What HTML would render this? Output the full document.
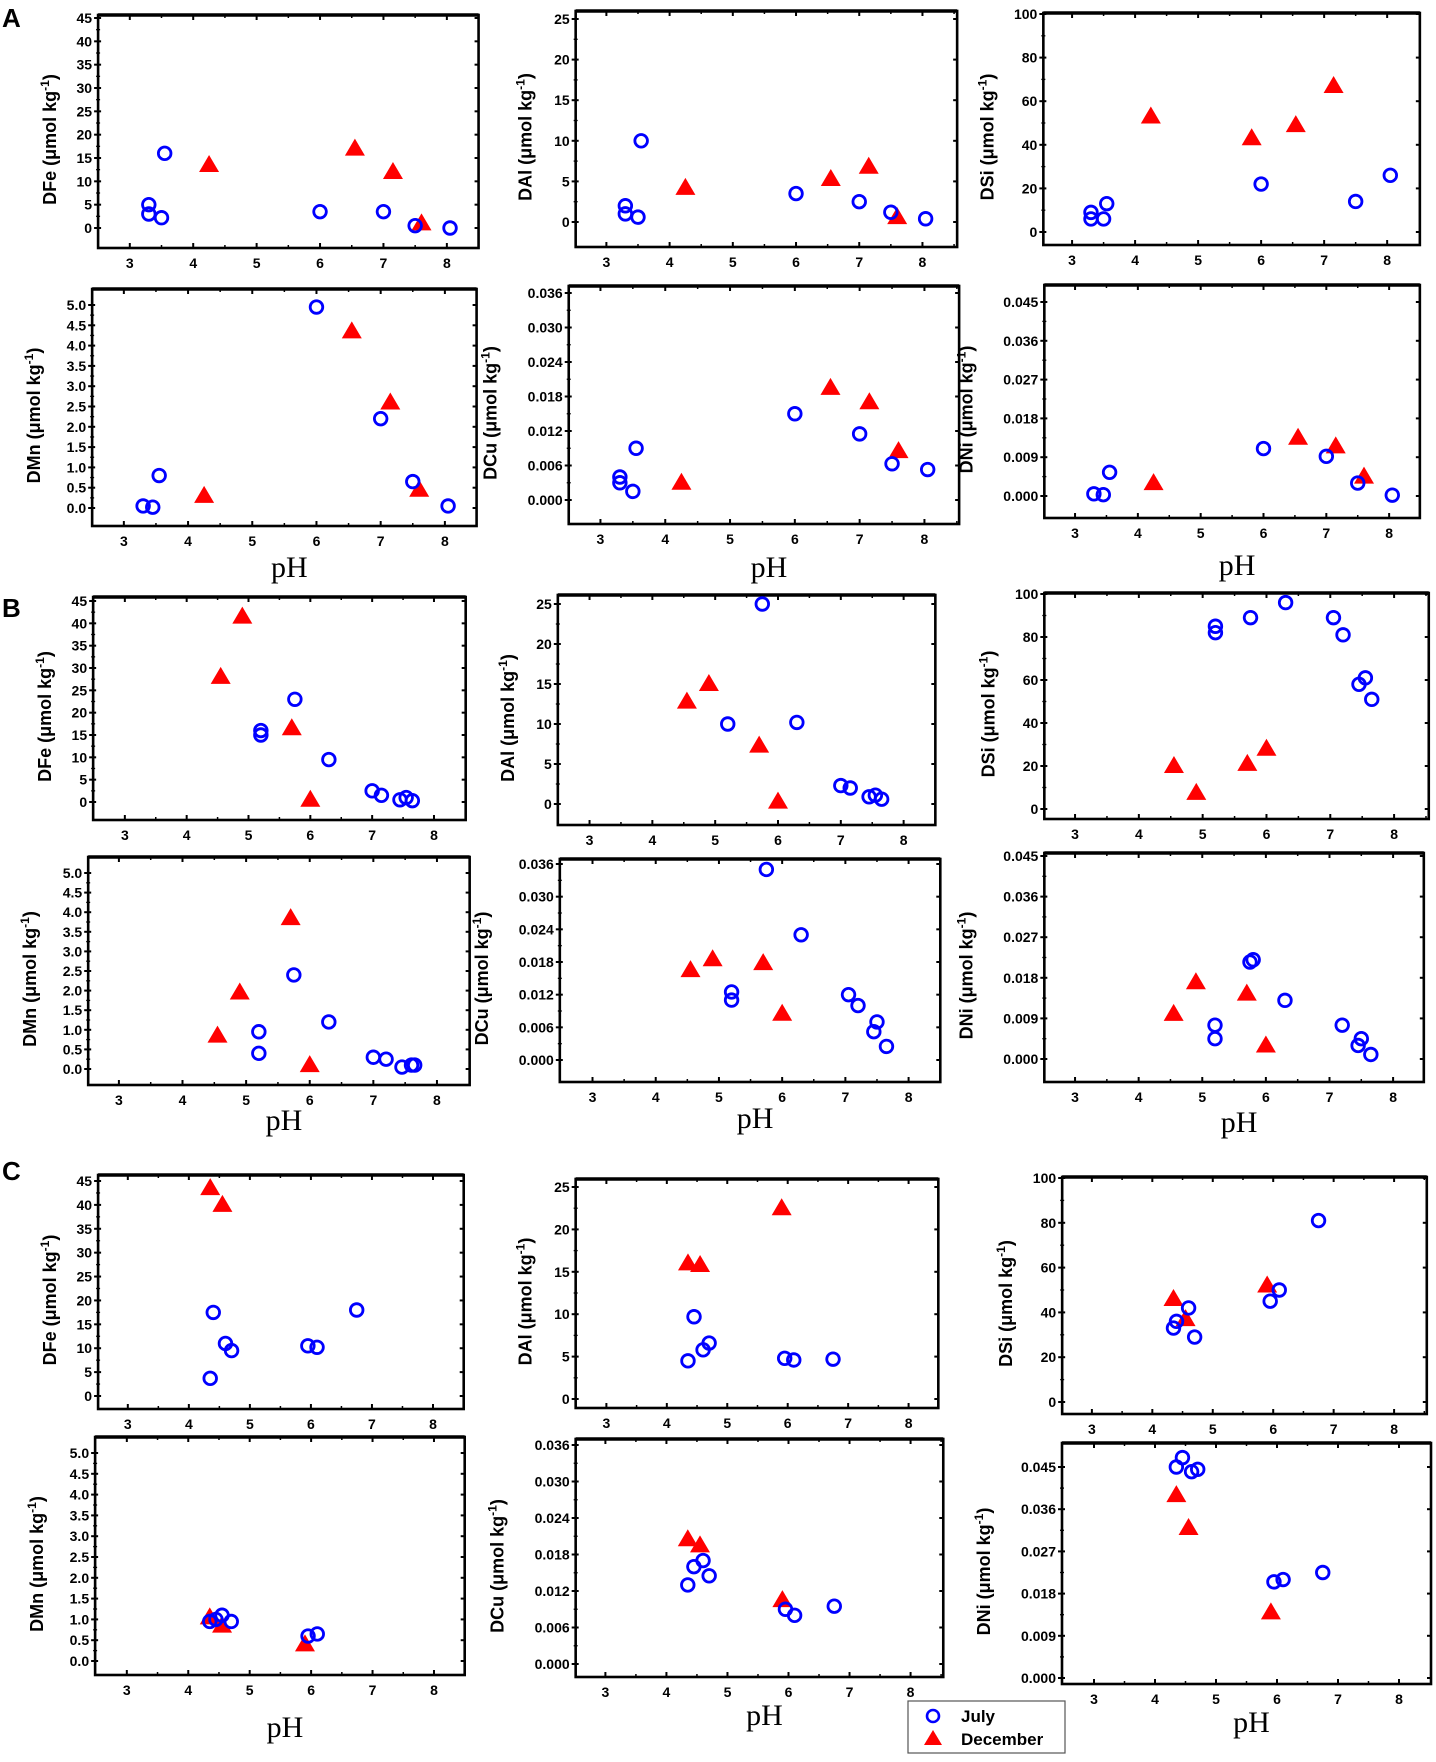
<!DOCTYPE html>
<html><head><meta charset="utf-8">
<style>
html,body{margin:0;padding:0;background:#fff;}
svg{display:block;}
text{font-family:"Liberation Sans",Arial,sans-serif;}
text.serif{font-family:"Liberation Serif","Times New Roman",serif;}
</style></head>
<body>
<svg id="fig" width="1436" height="1762" viewBox="0 0 1436 1762" xmlns="http://www.w3.org/2000/svg">
<text x="2" y="27" font-size="26" font-weight="bold">A</text>
<text x="2" y="617" font-size="26" font-weight="bold">B</text>
<text x="2" y="1180" font-size="26" font-weight="bold">C</text>
<g id="plots"></g>
<g>
<rect x="908" y="1701" width="157" height="52" fill="#fff" stroke="#555" stroke-width="1.2"/>
<circle cx="933" cy="1716" r="6" fill="none" stroke="#0000ff" stroke-width="2.6"/>
<text x="961" y="1722" font-size="17" font-weight="bold">July</text>
<polygon points="933,1730 942,1745 924,1745" fill="#ff0000"/>
<text x="961" y="1745" font-size="17" font-weight="bold">December</text>
</g>
</svg>
<script>
// ---- data (pH, concentration) ----
const A_DFe_julyPH=[3.3,3.3,3.5,3.55,6,7,7.5,8.05];
const A_DFe_july=[5,3,2.2,16,3.5,3.5,0.5,0];
const A_DFe_decPH=[4.25,6.55,7.15,7.6];
const A_DFe_dec=[13.5,17,12,1];
const A_DAl_julyPH=[3.3,3.3,3.5,3.55,6,7,7.5,8.05];
const A_DAl_july=[2,1,0.6,10,3.5,2.5,1.2,0.4];
const A_DAl_decPH=[4.25,6.55,7.15,7.6];
const A_DAl_dec=[4.2,5.3,6.8,0.6];
const A_DSi_julyPH=[3.3,3.3,3.5,3.55,6,7.5,8.05];
const A_DSi_july=[9,6,6,13,22,14,26];
const A_DSi_decPH=[4.25,5.85,6.55,7.15];
const A_DSi_dec=[53,43,49,67];
const A_DMn_julyPH=[3.3,3.45,3.55,6,7,7.5,8.05];
const A_DMn_july=[0.05,0.02,0.8,4.95,2.2,0.65,0.05];
const A_DMn_decPH=[4.25,6.55,7.15,7.6];
const A_DMn_dec=[0.3,4.35,2.6,0.45];
const A_DCu_julyPH=[3.3,3.3,3.5,3.55,6,7,7.5,8.05];
const A_DCu_july=[0.004,0.003,0.0015,0.009,0.015,0.0115,0.0063,0.0053];
const A_DCu_decPH=[4.25,6.55,7.15,7.6];
const A_DCu_dec=[0.003,0.0195,0.017,0.0085];
const A_DNi_julyPH=[3.3,3.45,3.55,6,7,7.5,8.05];
const A_DNi_july=[0.0005,0.0003,0.0055,0.011,0.0092,0.003,0.0002];
const A_DNi_decPH=[4.25,6.55,7.15,7.6];
const A_DNi_dec=[0.003,0.0135,0.0115,0.0045];
const B_DFe_julyPH=[5.2,5.2,5.75,6.3,7,7.15,7.45,7.55,7.65];
const B_DFe_july=[15,16,23,9.5,2.5,1.5,0.5,1,0.3];
const B_DFe_decPH=[4.55,4.9,5.7,6];
const B_DFe_dec=[28,41.5,16.5,0.5];
const B_DAl_julyPH=[5.2,5.75,6.3,7,7.15,7.45,7.55,7.65];
const B_DAl_july=[10,25,10.2,2.3,2,0.9,1.1,0.6];
const B_DAl_decPH=[4.55,4.9,5.7,6];
const B_DAl_dec=[12.8,15,7.3,0.3];
const B_DSi_julyPH=[5.2,5.2,5.75,6.3,7.05,7.2,7.45,7.55,7.65];
const B_DSi_july=[82,85,89,96,89,81,58,61,51];
const B_DSi_decPH=[4.55,4.9,5.7,6];
const B_DSi_dec=[20,7.5,21,28];
const B_DMn_julyPH=[5.2,5.2,5.75,6.3,7,7.2,7.45,7.6,7.65];
const B_DMn_july=[0.95,0.4,2.4,1.2,0.3,0.25,0.05,0.1,0.1];
const B_DMn_decPH=[4.55,4.9,5.7,6];
const B_DMn_dec=[0.85,1.95,3.85,0.1];
const B_DCu_julyPH=[5.75,6.3,5.2,5.2,7.05,7.2,7.45,7.5,7.65];
const B_DCu_july=[0.035,0.023,0.0125,0.011,0.012,0.01,0.0052,0.007,0.0025];
const B_DCu_decPH=[4.55,4.9,5.7,6];
const B_DCu_dec=[0.0165,0.0185,0.0178,0.0085];
const B_DNi_julyPH=[5.75,5.8,6.3,5.2,5.2,7.2,7.5,7.45,7.65];
const B_DNi_july=[0.0215,0.022,0.013,0.0075,0.0045,0.0075,0.0045,0.003,0.001];
const B_DNi_decPH=[4.55,4.9,5.7,6];
const B_DNi_dec=[0.01,0.017,0.0145,0.003];
const C_DFe_julyPH=[4.35,4.4,4.6,4.7,5.95,6.1,6.75];
const C_DFe_july=[3.7,17.5,11,9.5,10.5,10.2,18];
const C_DFe_decPH=[4.35,4.55];
const C_DFe_dec=[43.5,40];
const C_DAl_julyPH=[4.35,4.45,4.6,4.7,5.95,6.1,6.75];
const C_DAl_july=[4.5,9.7,5.8,6.6,4.8,4.6,4.7];
const C_DAl_decPH=[4.35,4.55,5.9];
const C_DAl_dec=[16,15.8,22.5];
const C_DSi_julyPH=[4.35,4.4,4.6,4.7,5.95,6.1,6.75];
const C_DSi_july=[33,36,42,29,45,50,81];
const C_DSi_decPH=[4.35,4.55,5.9];
const C_DSi_dec=[46,37,52];
const C_DMn_julyPH=[4.35,4.45,4.55,4.7,5.95,6.1];
const C_DMn_july=[0.95,1.0,1.1,0.95,0.6,0.65];
const C_DMn_decPH=[4.35,4.55,5.9];
const C_DMn_dec=[1.05,0.85,0.4];
const C_DCu_julyPH=[4.35,4.45,4.6,4.7,5.95,6.1,6.75];
const C_DCu_july=[0.013,0.016,0.017,0.0145,0.009,0.008,0.0095];
const C_DCu_decPH=[4.35,4.55,5.9];
const C_DCu_dec=[0.0205,0.0195,0.0105];
const C_DNi_julyPH=[4.35,4.45,4.6,4.7,5.95,6.1,6.75];
const C_DNi_july=[0.045,0.047,0.044,0.0445,0.0205,0.021,0.0225];
const C_DNi_decPH=[4.35,4.55,5.9];
const C_DNi_dec=[0.039,0.032,0.014];
const xTicks=[3,4,5,6,7,8];
const ticksFe=[0,5,10,15,20,25,30,35,40,45];
const ticksAl=[0,5,10,15,20,25];
const ticksSi=[0,20,40,60,80,100];
const ticksMn=[0,0.5,1,1.5,2,2.5,3,3.5,4,4.5,5];
const ticksCu=[0,0.006,0.012,0.018,0.024,0.03,0.036];
const ticksNi=[0,0.009,0.018,0.027,0.036,0.045];

// ---- layout ----
const K=1.08/1.09;
const tickInfo={Fe:[ticksFe,0],Al:[ticksAl,0],Si:[ticksSi,0],Mn:[ticksMn,1],Cu:[ticksCu,3],Ni:[ticksNi,3]};
const panels=[
['A','Fe',99,15,483,248,131,451,18,228,42,K,0],
['A','Al',581,11,966,247,612,931,19,222,44,K,0],
['A','Si',1053,13,1433,245,1082,1400,14,232,50,K,0],
['A','Mn',93,289,481,526,125,449,305,508,52,K,567],
['A','Cu',574,286,968,524,606,933,293,500,72,K,567],
['A','Ni',1054,285,1433,518,1085,1402,302,496,72,K,565],
['B','Fe',94,597,470,820,126,438,601,802,42,K,0],
['B','Al',563,595,944,825,595,912,604,804,44,K,0],
['B','Si',1054,593,1442,819,1085,1407,594,809,50,K,0],
['B','Mn',89,857,474,1085,120,441,873,1069,52,K,1120],
['B','Cu',565,859,949,1082,598,917,864,1060,72,K,1118],
['B','Ni',1054,853,1437,1082,1085,1406,856,1059,72,K,1122],
['C','Fe',99,1175,468,1409,129,437,1181,1396,42,K,0],
['C','Al',581,1179,947,1408,612,917,1187,1399,44,K,0],
['C','Si',1072,1177,1440,1414,1102,1407,1178,1402,50,K,0],
['C','Mn',96,1437,469,1675,128,438,1453,1661,52,K,1727],
['C','Cu',581,1439,952,1677,611,919,1445,1664,72,K,1715],
['C','Ni',1062,1443,1431,1684,1094,1399,1467,1678,72,1,1722]
];
const NS='http://www.w3.org/2000/svg';
const root=document.getElementById('plots');
function mk(tag,attrs,parent){const e=document.createElementNS(NS,tag);for(const k in attrs)e.setAttribute(k,attrs[k]);parent.appendChild(e);return e;}
panels.forEach(p=>{
  const [sec,el,l0,t,r0,b,x30,x80,ymaxPx,y0Px,labOff,k,phY]=p;
  const l=l0*k,r=r0*k,x3=x30*k,x8=x80*k;
  const [ticks,dec]=tickInfo[el];
  const ymax=ticks[ticks.length-1];
  const xs=v=>x3+(v-3)*(x8-x3)/5;
  const ys=v=>y0Px+(v/ymax)*(ymaxPx-y0Px);
  const id=sec.toLowerCase()+'-d'+el.toLowerCase();
  const g=mk('g',{},root);
  
  
  const box=mk('rect',{x:l,y:t,width:r-l,height:b-t,fill:'#fff',stroke:'#000','stroke-width':2.6},g);
  
  
  mk('line',{x1:l,y1:t,x2:r,y2:t,stroke:'#000','stroke-width':3.5},g);
  xTicks.forEach((v,i)=>{
    const x=xs(v);
    mk('line',{x1:x,y1:b,x2:x,y2:b-5,stroke:'#000','stroke-width':2},g);
    mk('line',{x1:x,y1:t,x2:x,y2:t+5,stroke:'#000','stroke-width':2},g);
    const hx=xs(v+0.5);
    if(hx<r-2){mk('line',{x1:hx,y1:b,x2:hx,y2:b-3,stroke:'#000','stroke-width':1.5},g);mk('line',{x1:hx,y1:t,x2:hx,y2:t+3,stroke:'#000','stroke-width':1.5},g);}
    const tx=mk('text',{x:x,y:b+20,'font-size':14,'font-weight':'bold','text-anchor':'middle'},g);
    tx.textContent=v;
    
    
  });
  ticks.forEach((v,i)=>{
    const y=ys(v);
    mk('line',{x1:l-4,y1:y,x2:l+3,y2:y,stroke:'#000','stroke-width':2},g);
    mk('line',{x1:r,y1:y,x2:r-4,y2:y,stroke:'#000','stroke-width':2},g);
    if(i<ticks.length-1){const hy=ys((v+ticks[i+1])/2);mk('line',{x1:l-2,y1:hy,x2:l+2,y2:hy,stroke:'#000','stroke-width':1.3},g);}
    const tx=mk('text',{x:l-6,y:y+5,'font-size':14,'font-weight':'bold','text-anchor':'end'},g);
    tx.textContent=v.toFixed(dec);
    
    
  });
  const cy=(t+b)/2+8, cx=l-labOff;
  const yl=mk('text',{x:cx,y:cy,'font-size':18,'font-weight':'bold','text-anchor':'middle',transform:'rotate(-90 '+cx+' '+cy+')'},g);
  yl.innerHTML='D'+el+' (μmol kg<tspan font-size="12" dy="-7">-1</tspan><tspan dy="7">)</tspan>';
  
  
  if(phY){
    const ph=mk('text',{x:(l+r)/2+5,y:phY+10,'font-size':30,'text-anchor':'middle','class':'serif'},g);
    ph.textContent='pH';
    
    
  }
  const base=sec+'_D'+el+'_';
  const jPH=eval(base+'julyPH'), jV=eval(base+'july');
  const dPH=eval(base+'decPH'), dV=eval(base+'dec');
  dPH.forEach((ph,i)=>{
    const x=xs(ph),y=ys(dV[i]);
    const tri=mk('polygon',{points:`${x},${y-10} ${x+10},${y+7} ${x-10},${y+7}`,fill:'#ff0000'},g);
    
    
  });
  jPH.forEach((ph,i)=>{
    const c=mk('circle',{cx:xs(ph),cy:ys(jV[i]),r:6.3,fill:'none',stroke:'#0000ff','stroke-width':2.8},g);
    
    
  });
});
</script>
</body></html>
